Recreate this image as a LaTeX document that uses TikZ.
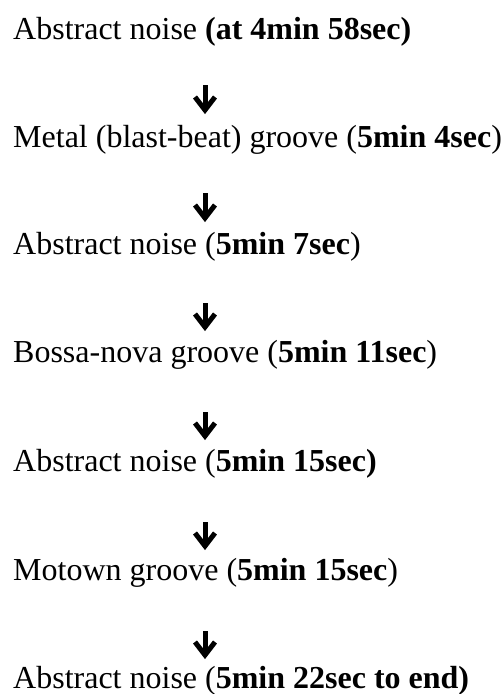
\documentclass[tikz,border=0pt]{standalone}
\usepackage{fontspec}
\setmainfont{Liberation Serif}
\begin{document}
\begin{tikzpicture}[x=1pt,y=-1pt,
  lbl/.style={anchor=base west,inner sep=0pt,font=\fontsize{32}{36}\selectfont},
  bigarrow/.style={line width=5pt,line join=miter,line cap=butt}]
\useasboundingbox (0,0) rectangle (503,694);
\node[lbl] (l1) at (13,39) {Abstract noise \textbf{(at 4min 58sec)}};
\node[lbl] (l2) at (13,147) {Metal (blast-beat) groove (\textbf{5min 4sec})};
\node[lbl] (l3) at (13,254) {Abstract noise (\textbf{5min 7sec})};
\node[lbl] (l4) at (13,362) {Bossa-nova groove (\textbf{5min 11sec})};
\node[lbl] (l5) at (13,471) {Abstract noise (\textbf{5min 15sec)}};
\node[lbl] (l6) at (13,580) {Motown groove (\textbf{5min 15sec})};
\node[lbl] (l7) at (13,688) {Abstract noise (\textbf{5min 22sec to end)}};
\foreach \i/\t/\b in {1/85/107,2/193/215,3/303/324,4/412/433,5/522/543,6/631/652}{
  \coordinate (s\i) at (205,\t);
  \coordinate (e\i) at (205,\b);
  \draw[bigarrow] (s\i) -- ([yshift=-3pt]e\i);
  \draw[bigarrow] ([shift={(-10,-10)}]e\i) -- ([yshift=-3pt]e\i) -- ([shift={(10,-10)}]e\i);
}
\end{tikzpicture}
\end{document}
